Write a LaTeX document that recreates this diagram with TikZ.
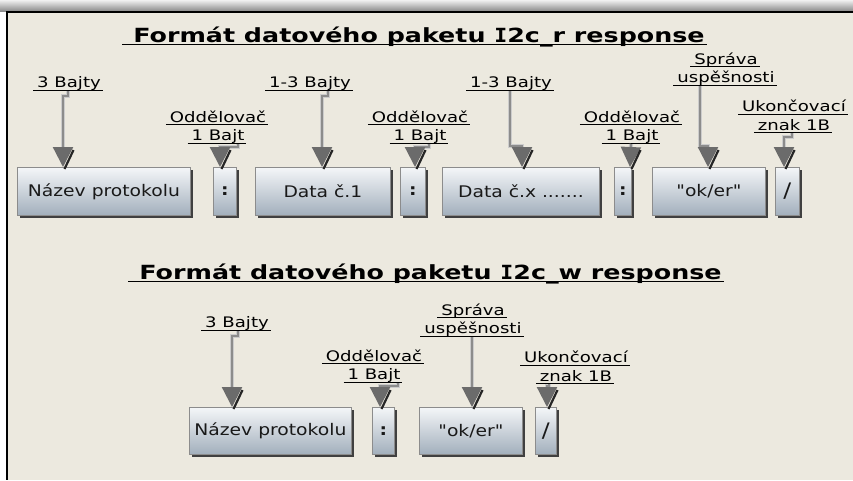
\documentclass[tikz,border=0pt]{standalone}
\usepackage{fontspec}
\usetikzlibrary{arrows.meta,shadows,calc}
\newfontfamily\lblfont[FakeStretch=1.25]{DejaVu Sans}
\newfontfamily\boxfont[FakeStretch=1.17]{DejaVu Sans}
\newfontfamily\ttlfont[FakeStretch=1.3]{DejaVu Sans}
\newfontfamily\serifI[FakeStretch=1.1]{DejaVu Sans Mono}
\definecolor{paper}{HTML}{ECE9DF}
\definecolor{boxtop}{HTML}{F4F6F8}
\definecolor{boxmid}{HTML}{DCE2E7}
\definecolor{boxbot}{HTML}{A2AFBC}
% text with a rule under it: #1 depth, #2 thickness, #3 text
\newcommand\ulin[3]{\setbox0\hbox{#3}\rlap{\rule[-#1]{\wd0}{#2}}\box0}
\newcommand\ulab[1]{\ulin{2.6pt}{0.8pt}{\hspace{4pt}#1\hspace{2pt}}}
\newcommand\uttl[1]{\ulin{3pt}{1.5pt}{\hspace{11pt}#1\hspace{2pt}}}
\newcommand\capI{{\serifI\bfseries I}}
% dark edge on the right side of an arrow head
\newcommand\tipshade[1]{\draw[black!85, line width=2.2pt] ($(#1)+(1.5,2)$) -- ($(#1)+(10.5,-17)$);}
\begin{document}
\begin{tikzpicture}[x=1pt,y=-1pt,
  pbox/.style={draw=black!45, line width=0.8pt, top color=boxtop, middle color=boxmid,
    bottom color=boxbot, general shadow={fill=black!75, shadow xshift=3pt, shadow yshift=-3pt},
    anchor=north west, minimum height=48pt, inner sep=0pt,
    font=\boxfont\fontsize{16}{18}\selectfont, text=black!90},
  sep/.style={pbox, font=\boxfont\bfseries\fontsize{16}{18}\selectfont},
  endc/.style={pbox, font=\boxfont\fontsize{20}{22}\selectfont},
  lab/.style={font=\lblfont\fontsize{14.5}{18.5}\selectfont, align=center, inner sep=0pt,
    anchor=south, text=black},
  ttl/.style={font=\ttlfont\bfseries\fontsize{19.5}{22}\selectfont, inner sep=0pt,
    anchor=base, text=black},
  conn/.style={preaction={draw=black!20, line width=4.2pt, -, shorten >=19pt},
    draw=black!45, line width=2.2pt,
    -{Triangle[width=20pt,length=20pt,color=black!58]}}]
\useasboundingbox (0,0) rectangle (853,480);

% frame
\fill[white] (0,0) rectangle (853,480);
\shade[top color=black!6, bottom color=black!45] (0,0) rectangle (853,11);
\fill[paper] (7,12) rectangle (853,480);
\draw[black, line width=2pt] (853,12) -- (7,12) -- (7,480);

% titles
\node[ttl] (T1) at (414.5,42) {\uttl{Formát datového paketu \capI2c\_r response}};
\node[ttl] (T2) at (426,279) {\uttl{Formát datového paketu \capI2c\_w response}};

% packet I2c_r
\node[pbox, minimum width=173pt] (N1) at (17,167) {Název protokolu};
\node[sep,  minimum width=23pt]  (C1) at (213,167) {:};
\node[pbox, minimum width=135pt] (D1) at (255,167) {Data č.1};
\node[sep,  minimum width=25pt]  (C2) at (400,167) {:};
\node[pbox, minimum width=157pt] (DX) at (442,167) {Data č.x .......};
\node[sep,  minimum width=17pt]  (C3) at (614,167) {:};
\node[pbox, minimum width=113pt] (OK) at (652,167) {"ok/er"};
\node[endc, minimum width=24pt]  (SL) at (775,167) {/};

\node[lab] (L1) at (68,91)   {\ulab{3 Bajty}};
\node[lab] (L2) at (217,144) {\ulab{Oddělovač}\\\ulab{1 Bajt}};
\node[lab] (L3) at (309,91)  {\ulab{1-3 Bajty}};
\node[lab] (L4) at (419,144) {\ulab{Oddělovač}\\\ulab{1 Bajt}};
\node[lab] (L5) at (510,91)  {\ulab{1-3 Bajty}};
\node[lab] (L6) at (631,144) {\ulab{Oddělovač}\\\ulab{1 Bajt}};
\node[lab] (L7) at (725,86)  {\ulab{Správa}\\\ulab{uspěšnosti}};
\node[lab] (L8) at (793,133) {\ulab{Ukončovací}\\\ulab{znak 1B}};

\coordinate (tA1) at (63,167);
\coordinate (tA2) at (220,167);
\coordinate (tA3) at (322,167);
\coordinate (tA4) at (415,167);
\coordinate (tA5) at (522,167);
\coordinate (tA6) at (630,167);
\coordinate (tA7) at (708,167);
\coordinate (tA8) at (784,167);

\draw[conn] (L1.south) -- ++(0,5) -| (tA1);
\draw[conn] ([xshift=21pt]L2.south) -- ++(0,3) -| (tA2);
\draw[conn] ([xshift=19pt]L3.south) -- ++(0,5) -| (tA3);
\draw[conn] ([xshift=10pt]L4.south) -- ++(0,3) -| (tA4);
\draw[conn] (L5.south) -- ++(0,55) -| (tA5);
\draw[conn] (L6.south) -- (tA6);
\draw[conn] ([xshift=-25pt]L7.south) -- ++(0,60) -| (tA7);
\draw[conn] ([xshift=-1pt]L8.south) -- ++(0,4) -| (tA8);
\foreach \t in {tA1,tA2,tA3,tA4,tA5,tA6,tA7,tA8} {\tipshade{\t}}

% packet I2c_w
\node[pbox, minimum width=162pt, minimum height=47pt] (N2)  at (189,407) {Název protokolu};
\node[sep,  minimum width=22pt, minimum height=47pt]  (C4)  at (372,407) {:};
\node[pbox, minimum width=103pt, minimum height=47pt] (OK2) at (419,407) {"ok/er"};
\node[endc, minimum width=21pt, minimum height=47pt]  (SL2) at (535,407) {/};

\node[lab] (M1) at (236,331) {\ulab{3 Bajty}};
\node[lab] (M2) at (373,383) {\ulab{Oddělovač}\\\ulab{1 Bajt}};
\node[lab] (M3) at (472,337) {\ulab{Správa}\\\ulab{uspěšnosti}};
\node[lab] (M4) at (575,384) {\ulab{Ukončovací}\\\ulab{znak 1B}};

\coordinate (tB1) at (232,407);
\coordinate (tB2) at (380,407);
\coordinate (tB3) at (472,407);
\coordinate (tB4) at (547,407);

\draw[conn] ([xshift=2pt]M1.south) -- ++(0,5) -| (tB1);
\draw[conn] ([xshift=25pt]M2.south) -- ++(0,3) -| (tB2);
\draw[conn] (M3.south) -- (tB3);
\draw[conn] ([xshift=-26pt]M4.south) -- ++(0,2) -| (tB4);
\foreach \t in {tB1,tB2,tB3,tB4} {\tipshade{\t}}
\end{tikzpicture}
\end{document}
